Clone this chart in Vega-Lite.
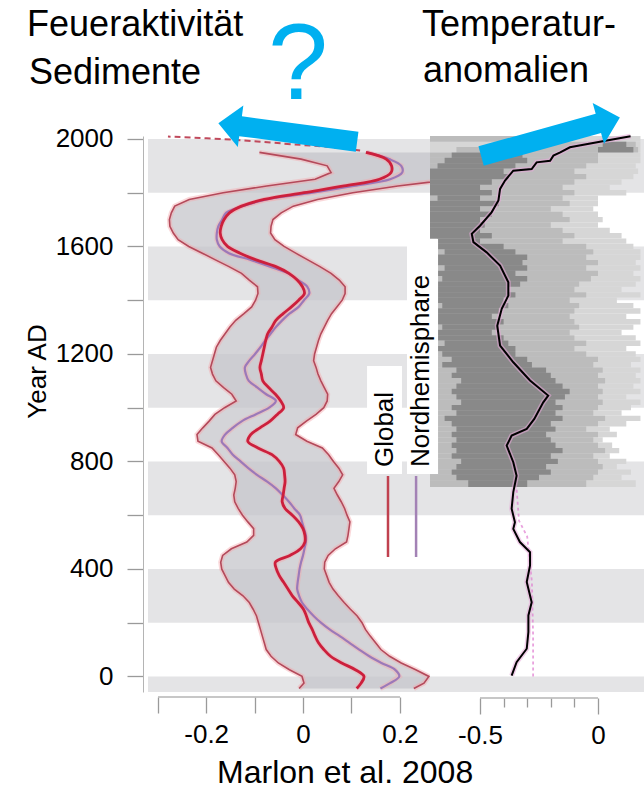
{
  "$schema": "https://vega.github.io/schema/vega-lite/v6.json",
  "padding": {"left": 24, "top": 7, "right": 0, "bottom": 0},
  "background": "white",
  "bounds": "flush",
  "spacing": 0,
  "config": {
    "font": "Liberation Sans",
    "view": {"stroke": null},
    "axis": {"grid": false, "labelFont": "Liberation Sans", "labelFontSize": 26, "labelColor": "#000000", "tickColor": "#9a9a9a", "tickWidth": 1.3, "domainColor": "#b4b4b4", "titleFont": "Liberation Sans", "titleFontSize": 26, "titleFontWeight": "normal", "titleColor": "#000000", "labelOverlap": false, "labelFlush": false}
  },
  "datasets": {
    "bands": [{"y0": 1800, "y1": 2000}, {"y0": 1400, "y1": 1600}, {"y0": 1000, "y1": 1200}, {"y0": 600, "y1": 800}, {"y0": 200, "y1": 400}, {"y0": -58, "y1": 0}],
    "fire": [
      {"year": 1950, "lower": -0.09, "upper": 0.75, "global": 0.13, "nh": 0.132},
      {"year": 1925, "lower": -0.004, "upper": 0.7, "global": 0.172, "nh": 0.178},
      {"year": 1900, "lower": 0.05, "upper": 0.6, "global": 0.183, "nh": 0.203},
      {"year": 1875, "lower": 0.058, "upper": 0.45, "global": 0.182, "nh": 0.205},
      {"year": 1850, "lower": 0.025, "upper": 0.31, "global": 0.158, "nh": 0.18},
      {"year": 1825, "lower": -0.075, "upper": 0.196, "global": 0.085, "nh": 0.105},
      {"year": 1800, "lower": -0.165, "upper": 0.103, "global": 0.002, "nh": 0.02},
      {"year": 1775, "lower": -0.235, "upper": 0.03, "global": -0.08, "nh": -0.075},
      {"year": 1750, "lower": -0.265, "upper": -0.02, "global": -0.127, "nh": -0.125},
      {"year": 1725, "lower": -0.272, "upper": -0.045, "global": -0.152, "nh": -0.159},
      {"year": 1700, "lower": -0.276, "upper": -0.062, "global": -0.163, "nh": -0.167},
      {"year": 1675, "lower": -0.275, "upper": -0.066, "global": -0.169, "nh": -0.175},
      {"year": 1650, "lower": -0.268, "upper": -0.067, "global": -0.171, "nh": -0.178},
      {"year": 1625, "lower": -0.258, "upper": -0.058, "global": -0.167, "nh": -0.178},
      {"year": 1600, "lower": -0.236, "upper": -0.039, "global": -0.156, "nh": -0.172},
      {"year": 1575, "lower": -0.208, "upper": -0.015, "global": -0.13, "nh": -0.153},
      {"year": 1550, "lower": -0.181, "upper": 0.01, "global": -0.097, "nh": -0.108},
      {"year": 1525, "lower": -0.153, "upper": 0.035, "global": -0.056, "nh": -0.068},
      {"year": 1500, "lower": -0.127, "upper": 0.058, "global": -0.029, "nh": -0.031},
      {"year": 1475, "lower": -0.111, "upper": 0.075, "global": -0.012, "nh": -0.01},
      {"year": 1450, "lower": -0.094, "upper": 0.087, "global": -0.001, "nh": 0.009},
      {"year": 1425, "lower": -0.093, "upper": 0.087, "global": 0.003, "nh": 0.013},
      {"year": 1400, "lower": -0.098, "upper": 0.081, "global": -0.009, "nh": 0.002},
      {"year": 1375, "lower": -0.106, "upper": 0.07, "global": -0.024, "nh": -0.009},
      {"year": 1350, "lower": -0.122, "upper": 0.059, "global": -0.041, "nh": -0.028},
      {"year": 1325, "lower": -0.139, "upper": 0.051, "global": -0.056, "nh": -0.043},
      {"year": 1300, "lower": -0.151, "upper": 0.044, "global": -0.064, "nh": -0.056},
      {"year": 1275, "lower": -0.161, "upper": 0.037, "global": -0.073, "nh": -0.067},
      {"year": 1250, "lower": -0.171, "upper": 0.032, "global": -0.077, "nh": -0.078},
      {"year": 1225, "lower": -0.179, "upper": 0.028, "global": -0.08, "nh": -0.088},
      {"year": 1200, "lower": -0.183, "upper": 0.024, "global": -0.083, "nh": -0.099},
      {"year": 1175, "lower": -0.187, "upper": 0.022, "global": -0.086, "nh": -0.111},
      {"year": 1150, "lower": -0.191, "upper": 0.027, "global": -0.089, "nh": -0.12},
      {"year": 1125, "lower": -0.187, "upper": 0.031, "global": -0.086, "nh": -0.118},
      {"year": 1100, "lower": -0.18, "upper": 0.037, "global": -0.083, "nh": -0.112},
      {"year": 1075, "lower": -0.164, "upper": 0.044, "global": -0.071, "nh": -0.094},
      {"year": 1050, "lower": -0.147, "upper": 0.051, "global": -0.057, "nh": -0.076},
      {"year": 1025, "lower": -0.138, "upper": 0.05, "global": -0.046, "nh": -0.056},
      {"year": 1000, "lower": -0.162, "upper": 0.043, "global": -0.04, "nh": -0.07},
      {"year": 975, "lower": -0.182, "upper": 0.027, "global": -0.053, "nh": -0.098},
      {"year": 950, "lower": -0.194, "upper": 0.007, "global": -0.068, "nh": -0.126},
      {"year": 925, "lower": -0.207, "upper": -0.011, "global": -0.089, "nh": -0.145},
      {"year": 900, "lower": -0.219, "upper": -0.015, "global": -0.108, "nh": -0.161},
      {"year": 875, "lower": -0.217, "upper": 0.008, "global": -0.114, "nh": -0.168},
      {"year": 850, "lower": -0.188, "upper": 0.04, "global": -0.093, "nh": -0.156},
      {"year": 825, "lower": -0.175, "upper": 0.053, "global": -0.064, "nh": -0.145},
      {"year": 800, "lower": -0.163, "upper": 0.063, "global": -0.049, "nh": -0.129},
      {"year": 775, "lower": -0.151, "upper": 0.074, "global": -0.04, "nh": -0.113},
      {"year": 750, "lower": -0.141, "upper": 0.082, "global": -0.038, "nh": -0.095},
      {"year": 725, "lower": -0.138, "upper": 0.074, "global": -0.037, "nh": -0.074},
      {"year": 700, "lower": -0.14, "upper": 0.064, "global": -0.039, "nh": -0.056},
      {"year": 675, "lower": -0.143, "upper": 0.071, "global": -0.041, "nh": -0.042},
      {"year": 650, "lower": -0.141, "upper": 0.079, "global": -0.043, "nh": -0.029},
      {"year": 625, "lower": -0.134, "upper": 0.086, "global": -0.037, "nh": -0.018},
      {"year": 600, "lower": -0.125, "upper": 0.091, "global": -0.022, "nh": -0.006},
      {"year": 575, "lower": -0.114, "upper": 0.097, "global": -0.009, "nh": -0.002},
      {"year": 550, "lower": -0.102, "upper": 0.095, "global": 0.0, "nh": 0.002},
      {"year": 525, "lower": -0.102, "upper": 0.093, "global": 0.004, "nh": 0.006},
      {"year": 500, "lower": -0.116, "upper": 0.09, "global": 0.004, "nh": 0.006},
      {"year": 475, "lower": -0.148, "upper": 0.067, "global": -0.005, "nh": 0.003},
      {"year": 450, "lower": -0.166, "upper": 0.052, "global": -0.027, "nh": 0.0},
      {"year": 425, "lower": -0.17, "upper": 0.045, "global": -0.057, "nh": -0.004},
      {"year": 400, "lower": -0.168, "upper": 0.044, "global": -0.055, "nh": -0.007},
      {"year": 375, "lower": -0.161, "upper": 0.049, "global": -0.049, "nh": -0.009},
      {"year": 350, "lower": -0.154, "upper": 0.054, "global": -0.04, "nh": -0.011},
      {"year": 325, "lower": -0.142, "upper": 0.062, "global": -0.031, "nh": -0.012},
      {"year": 300, "lower": -0.124, "upper": 0.073, "global": -0.022, "nh": -0.008},
      {"year": 275, "lower": -0.111, "upper": 0.085, "global": -0.01, "nh": -0.002},
      {"year": 250, "lower": -0.103, "upper": 0.098, "global": 0.001, "nh": 0.009},
      {"year": 225, "lower": -0.096, "upper": 0.112, "global": 0.007, "nh": 0.022},
      {"year": 200, "lower": -0.092, "upper": 0.122, "global": 0.012, "nh": 0.037},
      {"year": 175, "lower": -0.088, "upper": 0.129, "global": 0.019, "nh": 0.055},
      {"year": 150, "lower": -0.084, "upper": 0.139, "global": 0.025, "nh": 0.076},
      {"year": 125, "lower": -0.08, "upper": 0.15, "global": 0.032, "nh": 0.096},
      {"year": 100, "lower": -0.076, "upper": 0.161, "global": 0.043, "nh": 0.116},
      {"year": 75, "lower": -0.066, "upper": 0.179, "global": 0.057, "nh": 0.137},
      {"year": 50, "lower": -0.051, "upper": 0.203, "global": 0.08, "nh": 0.162},
      {"year": 25, "lower": -0.028, "upper": 0.233, "global": 0.108, "nh": 0.19},
      {"year": 0, "lower": -0.002, "upper": 0.26, "global": 0.126, "nh": 0.199},
      {"year": -25, "lower": 0.002, "upper": 0.25, "global": 0.12, "nh": 0.18},
      {"year": -45, "lower": -0.008, "upper": 0.229, "global": 0.111, "nh": 0.16}
    ],
    "dash": [
      {"year": 2009, "v": -0.279}, {"year": 1997, "v": -0.144}, {"year": 1978, "v": -0.006}, {"year": 1969, "v": 0.062}, {"year": 1957, "v": 0.118}
    ],
    "heat": [
      {"y0": 1990, "y1": 2011, "lh": 0.18, "m0": -0.712, "m1": -0.3, "d0": 0, "d1": 0},
      {"y0": 1970, "y1": 1990, "lh": 0.18, "m0": -0.4, "m1": 0.16, "d0": 0.02, "d1": 0.12},
      {"y0": 1950, "y1": 1970, "lh": 0.18, "m0": -0.6, "m1": 0.17, "d0": 0.0, "d1": 0.15},
      {"y0": 1930, "y1": 1950, "lh": 0.18, "m0": -0.712, "m1": 0.0, "d0": -0.62, "d1": -0.32},
      {"y0": 1910, "y1": 1930, "lh": 0.18, "m0": -0.712, "m1": 0.0, "d0": -0.65, "d1": -0.3},
      {"y0": 1890, "y1": 1910, "lh": 0.16, "m0": -0.712, "m1": -0.05, "d0": -0.68, "d1": -0.35},
      {"y0": 1870, "y1": 1890, "lh": 0.17, "m0": -0.712, "m1": -0.1, "d0": -0.712, "d1": -0.4},
      {"y0": 1850, "y1": 1870, "lh": 0.15, "m0": -0.712, "m1": -0.05, "d0": -0.712, "d1": -0.38},
      {"y0": 1830, "y1": 1850, "lh": 0.1, "m0": -0.712, "m1": -0.1, "d0": -0.712, "d1": -0.45},
      {"y0": 1810, "y1": 1830, "lh": 0.05, "m0": -0.712, "m1": -0.15, "d0": -0.712, "d1": -0.5},
      {"y0": 1790, "y1": 1810, "lh": 0.12, "m0": -0.712, "m1": -0.1, "d0": -0.712, "d1": -0.45},
      {"y0": 1770, "y1": 1790, "lh": 0.0, "m0": -0.712, "m1": -0.15, "d0": -0.68, "d1": -0.5},
      {"y0": 1750, "y1": 1770, "lh": 0.0, "m0": -0.712, "m1": -0.12, "d0": -0.712, "d1": -0.42},
      {"y0": 1730, "y1": 1750, "lh": -0.02, "m0": -0.712, "m1": -0.2, "d0": -0.712, "d1": -0.5},
      {"y0": 1710, "y1": 1730, "lh": 0.0, "m0": -0.712, "m1": -0.15, "d0": -0.712, "d1": -0.45},
      {"y0": 1690, "y1": 1710, "lh": 0.02, "m0": -0.712, "m1": -0.12, "d0": -0.712, "d1": -0.5},
      {"y0": 1670, "y1": 1690, "lh": 0.0, "m0": -0.712, "m1": -0.2, "d0": -0.712, "d1": -0.48},
      {"y0": 1650, "y1": 1670, "lh": 0.05, "m0": -0.712, "m1": -0.15, "d0": -0.712, "d1": -0.5},
      {"y0": 1630, "y1": 1650, "lh": 0.1, "m0": -0.712, "m1": -0.1, "d0": -0.712, "d1": -0.45},
      {"y0": 1610, "y1": 1630, "lh": 0.12, "m0": -0.712, "m1": -0.15, "d0": -0.68, "d1": -0.5},
      {"y0": 1590, "y1": 1610, "lh": 0.15, "m0": -0.712, "m1": -0.05, "d0": -0.712, "d1": -0.4},
      {"y0": 1570, "y1": 1590, "lh": 0.18, "m0": -0.712, "m1": -0.02, "d0": -0.65, "d1": -0.35},
      {"y0": 1550, "y1": 1570, "lh": 0.18, "m0": -0.712, "m1": -0.05, "d0": -0.712, "d1": -0.3},
      {"y0": 1530, "y1": 1550, "lh": 0.16, "m0": -0.712, "m1": 0.0, "d0": -0.68, "d1": -0.32},
      {"y0": 1510, "y1": 1530, "lh": 0.18, "m0": -0.712, "m1": -0.05, "d0": -0.65, "d1": -0.3},
      {"y0": 1490, "y1": 1510, "lh": 0.15, "m0": -0.712, "m1": 0.0, "d0": -0.712, "d1": -0.35},
      {"y0": 1470, "y1": 1490, "lh": 0.18, "m0": -0.712, "m1": -0.03, "d0": -0.66, "d1": -0.3},
      {"y0": 1450, "y1": 1470, "lh": 0.16, "m0": -0.712, "m1": -0.08, "d0": -0.712, "d1": -0.33},
      {"y0": 1430, "y1": 1450, "lh": 0.1, "m0": -0.712, "m1": -0.1, "d0": -0.68, "d1": -0.38},
      {"y0": 1410, "y1": 1430, "lh": 0.18, "m0": -0.712, "m1": -0.05, "d0": -0.712, "d1": -0.35},
      {"y0": 1390, "y1": 1410, "lh": 0.08, "m0": -0.712, "m1": -0.12, "d0": -0.712, "d1": -0.4},
      {"y0": 1370, "y1": 1390, "lh": 0.15, "m0": -0.712, "m1": -0.08, "d0": -0.66, "d1": -0.38},
      {"y0": 1350, "y1": 1370, "lh": 0.18, "m0": -0.712, "m1": -0.1, "d0": -0.712, "d1": -0.42},
      {"y0": 1330, "y1": 1350, "lh": 0.12, "m0": -0.712, "m1": -0.12, "d0": -0.68, "d1": -0.45},
      {"y0": 1310, "y1": 1330, "lh": 0.18, "m0": -0.712, "m1": -0.1, "d0": -0.712, "d1": -0.4},
      {"y0": 1290, "y1": 1310, "lh": 0.15, "m0": -0.712, "m1": -0.08, "d0": -0.66, "d1": -0.42},
      {"y0": 1270, "y1": 1290, "lh": 0.1, "m0": -0.712, "m1": -0.12, "d0": -0.712, "d1": -0.45},
      {"y0": 1250, "y1": 1270, "lh": 0.16, "m0": -0.712, "m1": -0.1, "d0": -0.68, "d1": -0.4},
      {"y0": 1230, "y1": 1250, "lh": 0.18, "m0": -0.712, "m1": -0.05, "d0": -0.65, "d1": -0.38},
      {"y0": 1210, "y1": 1230, "lh": 0.12, "m0": -0.712, "m1": -0.1, "d0": -0.712, "d1": -0.35},
      {"y0": 1190, "y1": 1210, "lh": 0.16, "m0": -0.712, "m1": -0.05, "d0": -0.66, "d1": -0.35},
      {"y0": 1170, "y1": 1190, "lh": 0.18, "m0": -0.712, "m1": 0.0, "d0": -0.62, "d1": -0.3},
      {"y0": 1150, "y1": 1170, "lh": 0.14, "m0": -0.712, "m1": -0.02, "d0": -0.66, "d1": -0.28},
      {"y0": 1130, "y1": 1150, "lh": 0.18, "m0": -0.712, "m1": 0.02, "d0": -0.6, "d1": -0.22},
      {"y0": 1110, "y1": 1130, "lh": 0.16, "m0": -0.68, "m1": 0.0, "d0": -0.62, "d1": -0.2},
      {"y0": 1090, "y1": 1110, "lh": 0.18, "m0": -0.712, "m1": 0.03, "d0": -0.58, "d1": -0.18},
      {"y0": 1070, "y1": 1090, "lh": 0.15, "m0": -0.712, "m1": 0.0, "d0": -0.6, "d1": -0.15},
      {"y0": 1050, "y1": 1070, "lh": 0.18, "m0": -0.712, "m1": 0.02, "d0": -0.62, "d1": -0.12},
      {"y0": 1030, "y1": 1050, "lh": 0.12, "m0": -0.712, "m1": 0.0, "d0": -0.6, "d1": -0.14},
      {"y0": 1010, "y1": 1030, "lh": 0.18, "m0": -0.712, "m1": 0.02, "d0": -0.58, "d1": -0.18},
      {"y0": 990, "y1": 1010, "lh": 0.14, "m0": -0.712, "m1": 0.0, "d0": -0.62, "d1": -0.15},
      {"y0": 970, "y1": 990, "lh": 0.1, "m0": -0.712, "m1": -0.02, "d0": -0.6, "d1": -0.18},
      {"y0": 950, "y1": 970, "lh": 0.18, "m0": -0.712, "m1": 0.03, "d0": -0.65, "d1": -0.15},
      {"y0": 930, "y1": 950, "lh": 0.12, "m0": -0.712, "m1": 0.0, "d0": -0.62, "d1": -0.2},
      {"y0": 910, "y1": 930, "lh": 0.05, "m0": -0.712, "m1": -0.05, "d0": -0.6, "d1": -0.18},
      {"y0": 890, "y1": 910, "lh": 0.08, "m0": -0.712, "m1": 0.0, "d0": -0.62, "d1": -0.22},
      {"y0": 870, "y1": 890, "lh": 0.02, "m0": -0.712, "m1": -0.02, "d0": -0.6, "d1": -0.2},
      {"y0": 850, "y1": 870, "lh": 0.06, "m0": -0.712, "m1": 0.0, "d0": -0.62, "d1": -0.18},
      {"y0": 830, "y1": 850, "lh": 0.09, "m0": -0.712, "m1": 0.03, "d0": -0.6, "d1": -0.15},
      {"y0": 810, "y1": 830, "lh": 0.05, "m0": -0.712, "m1": -0.02, "d0": -0.62, "d1": -0.2},
      {"y0": 790, "y1": 810, "lh": 0.12, "m0": -0.712, "m1": 0.0, "d0": -0.58, "d1": -0.17},
      {"y0": 770, "y1": 790, "lh": 0.08, "m0": -0.712, "m1": 0.02, "d0": -0.6, "d1": -0.22},
      {"y0": 750, "y1": 770, "lh": 0.14, "m0": -0.712, "m1": 0.0, "d0": -0.62, "d1": -0.2},
      {"y0": 730, "y1": 750, "lh": 0.1, "m0": -0.712, "m1": -0.02, "d0": -0.6, "d1": -0.25},
      {"y0": 705, "y1": 730, "lh": 0.16, "m0": -0.712, "m1": -0.05, "d0": -0.55, "d1": -0.3}
    ],
    "temp": [
      {"year": 2010, "t": 0.138}, {"year": 1990, "t": 0.008}, {"year": 1969, "t": -0.119}, {"year": 1950, "t": -0.16},
      {"year": 1938, "t": -0.189}, {"year": 1919, "t": -0.203}, {"year": 1913, "t": -0.26}, {"year": 1888, "t": -0.281},
      {"year": 1882, "t": -0.359}, {"year": 1845, "t": -0.394}, {"year": 1814, "t": -0.415}, {"year": 1771, "t": -0.422},
      {"year": 1727, "t": -0.451}, {"year": 1677, "t": -0.5}, {"year": 1647, "t": -0.535}, {"year": 1616, "t": -0.528},
      {"year": 1578, "t": -0.472}, {"year": 1529, "t": -0.415}, {"year": 1467, "t": -0.38}, {"year": 1417, "t": -0.38},
      {"year": 1368, "t": -0.408}, {"year": 1305, "t": -0.427}, {"year": 1231, "t": -0.415}, {"year": 1169, "t": -0.359},
      {"year": 1101, "t": -0.288}, {"year": 1045, "t": -0.211}, {"year": 1020, "t": -0.232}, {"year": 958, "t": -0.27},
      {"year": 921, "t": -0.302}, {"year": 896, "t": -0.366}, {"year": 859, "t": -0.387}, {"year": 797, "t": -0.359},
      {"year": 747, "t": -0.345}, {"year": 686, "t": -0.359}, {"year": 624, "t": -0.366}, {"year": 574, "t": -0.352},
      {"year": 549, "t": -0.359}, {"year": 500, "t": -0.331}, {"year": 462, "t": -0.288}, {"year": 413, "t": -0.288},
      {"year": 351, "t": -0.302}, {"year": 276, "t": -0.281}, {"year": 227, "t": -0.295}, {"year": 165, "t": -0.295},
      {"year": 103, "t": -0.302}, {"year": 53, "t": -0.345}, {"year": 3, "t": -0.366}
    ],
    "pink": [
      {"year": 0, "p": -0.275}, {"year": 150, "p": -0.275}, {"year": 350, "p": -0.28}, {"year": 520, "p": -0.3}, {"year": 580, "p": -0.335}, {"year": 700, "p": -0.345}
    ]
  },
  "hconcat": [
    {
      "width": 282,
      "height": 556,
      "layer": [
        {
          "data": {"name": "bands"},
          "mark": {"type": "rect", "color": "#e4e4e6"},
          "encoding": {
            "x": {"value": 0},
            "x2": {"value": "width"},
            "y": {"field": "y0", "type": "quantitative", "scale": {"domain": [-58, 2011], "nice": false, "zero": false},
              "axis": {"title": "Year AD", "values": [0,50,100,150,200,250,300,350,400,450,500,550,600,650,700,750,800,850,900,950,1000,1050,1100,1150,1200,1250,1300,1350,1400,1450,1500,1550,1600,1650,1700,1750,1800,1850,1900,1950,2000],
                "format": "d", "labelExpr": "datum.value % 400 == 0 ? datum.label : ''",
                "tickSize": {"condition": {"test": "datum.value % 200 == 0", "value": 16}, "value": 9},
                "offset": 5, "labelPadding": 14, "titleBaseline": "alphabetic", "titleAngle": 270, "titleAlign": "center", "titleX": -98, "titleY": 235}},
            "y2": {"field": "y1"}
          }
        },
        {
          "data": {"name": "fire"},
          "mark": {"type": "area", "orient": "horizontal", "color": "#c6c6cb", "opacity": 0.75, "clip": true},
          "encoding": {
            "x": {"field": "lower", "type": "quantitative", "scale": {"domain": [-0.3202, 0.2624], "nice": false, "zero": false},
              "axis": {"title": null, "values": [-0.3,-0.25,-0.2,-0.15,-0.1,-0.05,0,0.05,0.1,0.15,0.2],
                "labelExpr": "datum.value == -0.2 ? '-0.2' : datum.value == 0 ? '0' : datum.value == 0.2 ? '0.2' : ''",
                "tickSize": {"condition": {"test": "abs(datum.value*10 - round(datum.value*10)) < 0.01", "value": 16}, "value": 9},
                "offset": 5, "domain": false, "labelPadding": 8}},
            "x2": {"field": "upper"},
            "y": {"field": "year", "type": "quantitative"}
          }
        },
        {
          "data": {"name": "fire"},
          "transform": [{"fold": ["lower", "upper", "nh", "global"], "as": ["series", "val"]}],
          "mark": {"type": "line", "color": "#f4a9ad", "strokeWidth": 5, "opacity": 0.45, "clip": true},
          "encoding": {
            "x": {"field": "val", "type": "quantitative"},
            "y": {"field": "year", "type": "quantitative"},
            "detail": {"field": "series", "type": "nominal"},
            "order": {"field": "year", "type": "quantitative"}
          }
        },
        {
          "data": {"name": "fire"},
          "mark": {"type": "line", "color": "#b4495a", "strokeWidth": 1.6, "clip": true},
          "encoding": {"x": {"field": "lower", "type": "quantitative"}, "y": {"field": "year", "type": "quantitative"}, "order": {"field": "year", "type": "quantitative"}}
        },
        {
          "data": {"name": "fire"},
          "mark": {"type": "line", "color": "#b4495a", "strokeWidth": 1.6, "clip": true},
          "encoding": {"x": {"field": "upper", "type": "quantitative"}, "y": {"field": "year", "type": "quantitative"}, "order": {"field": "year", "type": "quantitative"}}
        },
        {
          "data": {"name": "fire"},
          "mark": {"type": "line", "color": "#9b79b9", "strokeWidth": 2.2, "clip": true, "interpolate": "catmull-rom"},
          "encoding": {"x": {"field": "nh", "type": "quantitative"}, "y": {"field": "year", "type": "quantitative"}, "order": {"field": "year", "type": "quantitative"}}
        },
        {
          "data": {"name": "fire"},
          "mark": {"type": "line", "color": "#cc1f3c", "strokeWidth": 2.8, "clip": true, "interpolate": "catmull-rom"},
          "encoding": {"x": {"field": "global", "type": "quantitative"}, "y": {"field": "year", "type": "quantitative"}, "order": {"field": "year", "type": "quantitative"}}
        },
        {
          "data": {"name": "dash"},
          "mark": {"type": "line", "color": "#c04a5c", "strokeWidth": 2, "strokeDash": [6, 4], "interpolate": "catmull-rom"},
          "encoding": {"x": {"field": "v", "type": "quantitative"}, "y": {"field": "year", "type": "quantitative"}, "order": {"field": "year", "type": "quantitative"}}
        },
        {
          "data": {"values": [{}]},
          "mark": {"type": "point", "shape": "M -0.143 1 L 0.143 1 L 0.143 -0.68 L 0.3 -0.68 L 0 -1 L -0.3 -0.68 L -0.143 -0.68 Z", "filled": true, "color": "#00b0f0", "opacity": 1, "size": 19600, "angle": 277.6, "strokeWidth": 0},
          "encoding": {"x": {"datum": -0.0315, "type": "quantitative"}, "y": {"datum": 2024, "type": "quantitative"}}
        },
        {
          "data": {"values": [{}]},
          "mark": {"type": "text", "text": "Feueraktivität", "align": "left", "baseline": "alphabetic", "fontSize": 36, "color": "#000000"},
          "encoding": {"x": {"datum": -0.57, "type": "quantitative"}, "y": {"datum": 2383, "type": "quantitative"}}
        },
        {
          "data": {"values": [{}]},
          "mark": {"type": "text", "text": "Sedimente", "align": "left", "baseline": "alphabetic", "fontSize": 36, "color": "#000000"},
          "encoding": {"x": {"datum": -0.566, "type": "quantitative"}, "y": {"datum": 2204, "type": "quantitative"}}
        },
        {
          "data": {"values": [{}]},
          "mark": {"type": "text", "text": "?", "align": "center", "baseline": "alphabetic", "fontSize": 108, "color": "#00b0f0"},
          "encoding": {"x": {"datum": -0.01, "type": "quantitative"}, "y": {"datum": 2149, "type": "quantitative"}}
        },
        {
          "data": {"values": [{}]},
          "mark": {"type": "text", "text": "Marlon et al. 2008", "align": "center", "baseline": "alphabetic", "fontSize": 32, "color": "#000000"},
          "encoding": {"x": {"datum": 0.087, "type": "quantitative"}, "y": {"datum": -397, "type": "quantitative"}}
        },
        {
          "data": {"values": [{}]},
          "mark": {"type": "point", "shape": "M -1 0 L 1 0", "filled": false, "color": "#b4b4b4", "opacity": 1, "strokeWidth": 1.5, "size": 58564},
          "encoding": {"x": {"datum": -0.0496, "type": "quantitative"}, "y": {"datum": -77, "type": "quantitative"}}
        }
      ]
    },
    {
      "width": 214,
      "height": 556,
      "layer": [
        {
          "data": {"name": "bands"},
          "mark": {"type": "rect", "color": "#e4e4e6"},
          "encoding": {
            "x": {"value": 0},
            "x2": {"value": "width"},
            "y": {"field": "y0", "type": "quantitative", "scale": {"domain": [-58, 2011], "nice": false, "zero": false}, "axis": null},
            "y2": {"field": "y1"}
          }
        },
        {
          "data": {"name": "heat"},
          "mark": {"type": "rect", "color": "#8c8c8c", "opacity": 0.0},
          "encoding": {
            "x": {"field": "m0", "type": "quantitative", "scale": {"domain": [-0.712, 0.195], "nice": false, "zero": false},
              "axis": {"title": null, "values": [-0.5,-0.4,-0.3,-0.2,-0.1,0],
                "labelExpr": "datum.value == -0.5 ? '-0.5' : datum.value == 0 ? '0' : ''",
                "tickSize": {"condition": {"test": "datum.value == -0.5 || datum.value == 0", "value": 16}, "value": 9},
                "offset": 6, "domain": false, "labelPadding": 8}},
            "x2": {"field": "m1"},
            "y": {"field": "y0", "type": "quantitative", "axis": null},
            "y2": {"field": "y1"}
          }
        },
        {
          "data": {"name": "heat"},
          "mark": {"type": "rect", "color": "#d6d6d6"},
          "encoding": {
            "x": {"field": "lh", "type": "quantitative"},
            "x2": {"value": 0},
            "y": {"field": "y0", "type": "quantitative", "axis": null},
            "y2": {"field": "y1"}
          }
        },
        {
          "data": {"name": "heat"},
          "mark": {"type": "rect", "color": "#808080", "opacity": 0.3},
          "encoding": {
            "x": {"field": "m0", "type": "quantitative"},
            "x2": {"field": "m1"},
            "y": {"field": "y0", "type": "quantitative", "axis": null},
            "y2": {"field": "y1"}
          }
        },
        {
          "data": {"name": "heat"},
          "mark": {"type": "rect", "color": "#383838", "opacity": 0.38},
          "encoding": {
            "x": {"field": "d0", "type": "quantitative"},
            "x2": {"field": "d1"},
            "y": {"field": "y0", "type": "quantitative", "axis": null},
            "y2": {"field": "y1"}
          }
        },
        {
          "data": {"name": "pink"},
          "mark": {"type": "line", "color": "#e07ad0", "strokeWidth": 1.8, "strokeDash": [3, 3], "opacity": 0.7},
          "encoding": {"x": {"field": "p", "type": "quantitative"}, "y": {"field": "year", "type": "quantitative", "axis": null}, "order": {"field": "year", "type": "quantitative"}}
        },
        {
          "data": {"name": "temp"},
          "mark": {"type": "line", "color": "#e7a8d8", "strokeWidth": 5, "opacity": 0.55},
          "encoding": {"x": {"field": "t", "type": "quantitative"}, "y": {"field": "year", "type": "quantitative", "axis": null}, "order": {"field": "year", "type": "quantitative"}}
        },
        {
          "data": {"name": "temp"},
          "mark": {"type": "line", "color": "#000000", "strokeWidth": 2},
          "encoding": {"x": {"field": "t", "type": "quantitative"}, "y": {"field": "year", "type": "quantitative", "axis": null}, "order": {"field": "year", "type": "quantitative"}}
        },
        {
          "data": {"values": [{}]},
          "mark": {"type": "point", "shape": "M -0.139 1 L 0.139 1 L 0.139 -0.69 L 0.295 -0.69 L 0 -1 L -0.295 -0.69 L -0.139 -0.69 Z", "filled": true, "color": "#00b0f0", "opacity": 1, "size": 20736, "angle": 74.5, "strokeWidth": 0},
          "encoding": {"x": {"datum": -0.2013, "type": "quantitative"}, "y": {"datum": 2008.2, "type": "quantitative", "axis": null}}
        },
        {
          "data": {"values": [{}]},
          "mark": {"type": "text", "text": "Temperatur-", "align": "left", "baseline": "alphabetic", "fontSize": 36, "color": "#000000"},
          "encoding": {"x": {"datum": -0.746, "type": "quantitative"}, "y": {"datum": 2383, "type": "quantitative", "axis": null}}
        },
        {
          "data": {"values": [{}]},
          "mark": {"type": "text", "text": "anomalien", "align": "left", "baseline": "alphabetic", "fontSize": 36, "color": "#000000"},
          "encoding": {"x": {"datum": -0.742, "type": "quantitative"}, "y": {"datum": 2211, "type": "quantitative", "axis": null}}
        },
        {
          "data": {"values": [{}]},
          "mark": {"type": "point", "shape": "M -0.324 -1 L 0.324 -1 L 0.324 1 L -0.324 1 Z", "filled": true, "color": "#ffffff", "opacity": 1, "size": 11664, "strokeWidth": 0},
          "encoding": {"x": {"datum": -0.9047, "type": "quantitative"}, "y": {"datum": 954, "type": "quantitative", "axis": null}}
        },
        {
          "data": {"values": [{}]},
          "mark": {"type": "point", "shape": "M -0.132 -1 L 0.132 -1 L 0.132 1 L -0.132 1 Z", "filled": true, "color": "#ffffff", "opacity": 1, "size": 55225, "strokeWidth": 0},
          "encoding": {"x": {"datum": -0.7436, "type": "quantitative"}, "y": {"datum": 1190.5, "type": "quantitative", "axis": null}}
        },
        {
          "data": {"values": [{}]},
          "mark": {"type": "text", "text": "Global", "align": "left", "baseline": "alphabetic", "angle": 270, "fontSize": 26, "color": "#000000"},
          "encoding": {"x": {"datum": -0.869, "type": "quantitative"}, "y": {"datum": 779, "type": "quantitative", "axis": null}}
        },
        {
          "data": {"values": [{}]},
          "mark": {"type": "text", "text": "Nordhemisphare", "align": "left", "baseline": "alphabetic", "angle": 270, "fontSize": 26, "color": "#000000"},
          "encoding": {"x": {"datum": -0.716, "type": "quantitative"}, "y": {"datum": 779, "type": "quantitative", "axis": null}}
        },
        {
          "data": {"values": [{}]},
          "mark": {"type": "point", "shape": "M 0 -1 L 0 1", "filled": false, "color": "#c0414f", "opacity": 1, "strokeWidth": 2.5, "size": 6561},
          "encoding": {"x": {"datum": -0.89, "type": "quantitative"}, "y": {"datum": 595, "type": "quantitative", "axis": null}}
        },
        {
          "data": {"values": [{}]},
          "mark": {"type": "point", "shape": "M 0 -1 L 0 1", "filled": false, "color": "#a382b5", "opacity": 1, "strokeWidth": 2.5, "size": 6561},
          "encoding": {"x": {"datum": -0.771, "type": "quantitative"}, "y": {"datum": 595, "type": "quantitative", "axis": null}}
        },
        {
          "data": {"values": [{}]},
          "mark": {"type": "point", "shape": "M -1 0 L 1 0", "filled": false, "color": "#b4b4b4", "opacity": 1, "strokeWidth": 1.5, "size": 13924},
          "encoding": {"x": {"datum": -0.25, "type": "quantitative"}, "y": {"datum": -80.7, "type": "quantitative", "axis": null}}
        }
      ]
    }
  ]
}
